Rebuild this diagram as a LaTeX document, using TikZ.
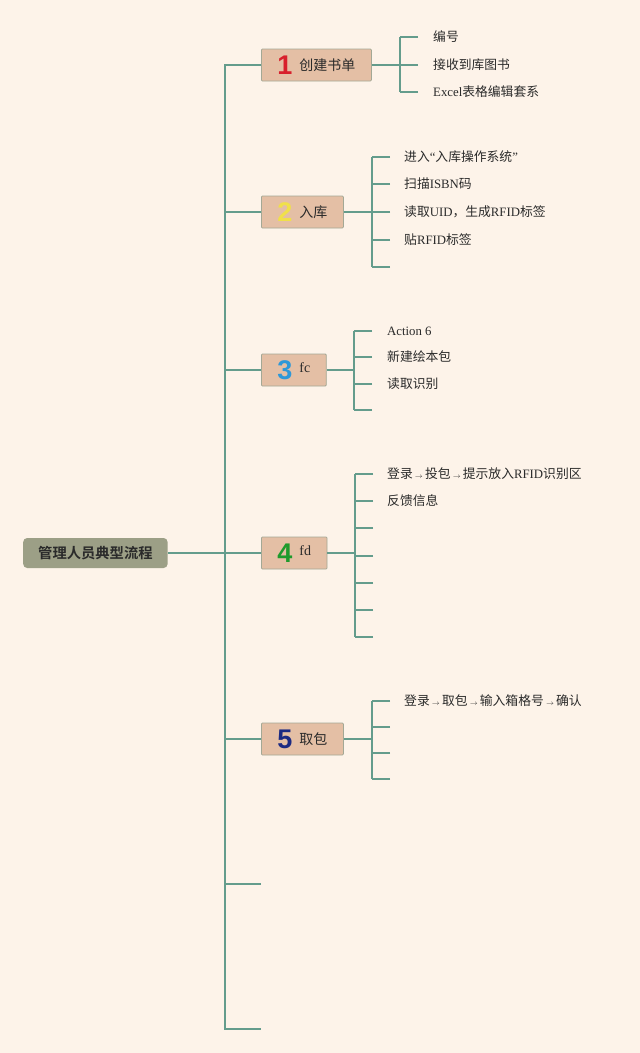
\documentclass[tikz,border=0pt]{standalone}
\usepackage{fontspec}
\setmainfont{Liberation Serif}
\newfontfamily\cjk[BoldFont={Noto Sans CJK SC Bold}]{Noto Sans CJK SC}
\newfontfamily\numf{Liberation Sans}
\newcommand\zh[1]{{\cjk #1}}
\newcommand\arr{\,{\scriptsize$\rightarrow$}\,}
\newcommand\topicno[2]{{\numf\bfseries\fontsize{27}{27}\selectfont\color{#1}#2}\hspace{7pt}}
\definecolor{bgc}{HTML}{FDF3E9}
\definecolor{linec}{HTML}{649C8C}
\definecolor{topicf}{HTML}{E4BFA5}
\definecolor{topicb}{HTML}{A3A895}
\definecolor{rootf}{HTML}{9C9F86}
\definecolor{textc}{HTML}{2A2A2A}
\definecolor{no1}{HTML}{D8202C}
\definecolor{no2}{HTML}{F0E04A}
\definecolor{no3}{HTML}{2E98D8}
\definecolor{no4}{HTML}{1F9A2C}
\definecolor{no5}{HTML}{1C2A82}

\begin{document}
\begin{tikzpicture}[x=1pt,y=-1pt,
  link/.style={draw=linec,line width=1.6pt},
  topic/.style={draw=topicb,fill=topicf,line width=0.8pt,rounded corners=1pt,anchor=west,
    minimum height=32pt,inner xsep=16pt,text=textc,font=\fontsize{14}{16}\selectfont\cjk},
  leaf/.style={anchor=west,inner xsep=0pt,inner ysep=1pt,text=textc,font=\fontsize{12.8}{14}\selectfont}]
  \fill[bgc] (0,0) rectangle (640,1053);
  \useasboundingbox (0,0) rectangle (640,1053);

  \node[fill=rootf,rounded corners=4pt,anchor=west,minimum height=30pt,inner xsep=15pt,
    text=textc,font=\fontsize{14.3}{16}\selectfont\cjk\bfseries] (root) at (23,553) {管理人员典型流程};

  \node[topic] (n1) at (261,65) {\topicno{no1}{1}\raisebox{3.5pt}{创建书单}};
  \node[topic] (n2) at (261,212) {\topicno{no2}{2}\raisebox{3.5pt}{入库}};
  \node[topic] (n3) at (261,370) {\topicno{no3}{3}\raisebox{7pt}{\rmfamily fc}};
  \node[topic] (n4) at (261,553) {\topicno{no4}{4}\raisebox{7pt}{\rmfamily fd}};
  \node[topic] (n5) at (261,739) {\topicno{no5}{5}\raisebox{3.5pt}{取包}};
  \coordinate (n6) at (261,884);
  \coordinate (n7) at (261,1029);

  \draw[link] (n1.west) -- (225,65) -- (225,1029) -- (n7);
  \foreach \n in {n2,n3,n5} \draw[link] (\n.west -| n1.west) ++(-36,0) -- (\n.west);
  \draw[link] (root.east) -- (n4.west);
  \draw[link] (225,884) -- (n6);

  % 1
  \foreach \y/\t [count=\i] in {37/{\zh{编号}},65/{\zh{接收到库图书}},92/{Excel\zh{表格编辑套系}}} {
    \coordinate (a\i) at (418,\y);
    \node[leaf] (la\i) at (433,\y) {\t};
    \draw[link] (a\i) -- ++(-18,0);
  }
  \draw[link] (n1.east) -- ([xshift=-18pt]a1 |- n1.east);
  \draw[link] ([xshift=-18pt]a1) -- ([xshift=-18pt]a3);

  % 2
  \foreach \y [count=\i] in {157,184,212,240,267} {
    \coordinate (b\i) at (390,\y);
    \draw[link] (b\i) -- ++(-18,0);
  }
  \foreach \t [count=\i] in {{\zh{进入}“\zh{入库操作系统}”},{\zh{扫描}ISBN\zh{码}},
      {\zh{读取}UID\zh{，生成}RFID\zh{标签}},{\zh{贴}RFID\zh{标签}}}
    \node[leaf] (lb\i) at (b\i) [xshift=14pt] {\t};
  \draw[link] (n2.east) -- ([xshift=-18pt]b1 |- n2.east);
  \draw[link] ([xshift=-18pt]b1) -- ([xshift=-18pt]b5);

  % 3
  \foreach \y [count=\i] in {331,357,384,410} {
    \coordinate (c\i) at (372,\y);
    \draw[link] (c\i) -- ++(-18,0);
  }
  \foreach \t [count=\i] in {{Action 6},{\zh{新建绘本包}},{\zh{读取识别}}}
    \node[leaf] (lc\i) at (c\i) [xshift=15pt] {\t};
  \draw[link] (n3.east) -- ([xshift=-18pt]c1 |- n3.east);
  \draw[link] ([xshift=-18pt]c1) -- ([xshift=-18pt]c4);

  % 4
  \foreach \y [count=\i] in {474,501,528,556,583,610,637} {
    \coordinate (d\i) at (373,\y);
    \draw[link] (d\i) -- ++(-18,0);
  }
  \foreach \t [count=\i] in {{\zh{登录}\arr\zh{投包}\arr\zh{提示放入}RFID\zh{识别区}},{\zh{反馈信息}}}
    \node[leaf] (ld\i) at (d\i) [xshift=14pt] {\t};
  \draw[link] (n4.east) -- ([xshift=-18pt]d1 |- n4.east);
  \draw[link] ([xshift=-18pt]d1) -- ([xshift=-18pt]d7);

  % 5
  \foreach \y [count=\i] in {701,727,753,779} {
    \coordinate (e\i) at (390,\y);
    \draw[link] (e\i) -- ++(-18,0);
  }
  \node[leaf] (le1) at (e1) [xshift=14pt] {\zh{登录}\arr\zh{取包}\arr\zh{输入箱格号}\arr\zh{确认}};
  \draw[link] (n5.east) -- ([xshift=-18pt]e1 |- n5.east);
  \draw[link] ([xshift=-18pt]e1) -- ([xshift=-18pt]e4);
\end{tikzpicture}
\end{document}
